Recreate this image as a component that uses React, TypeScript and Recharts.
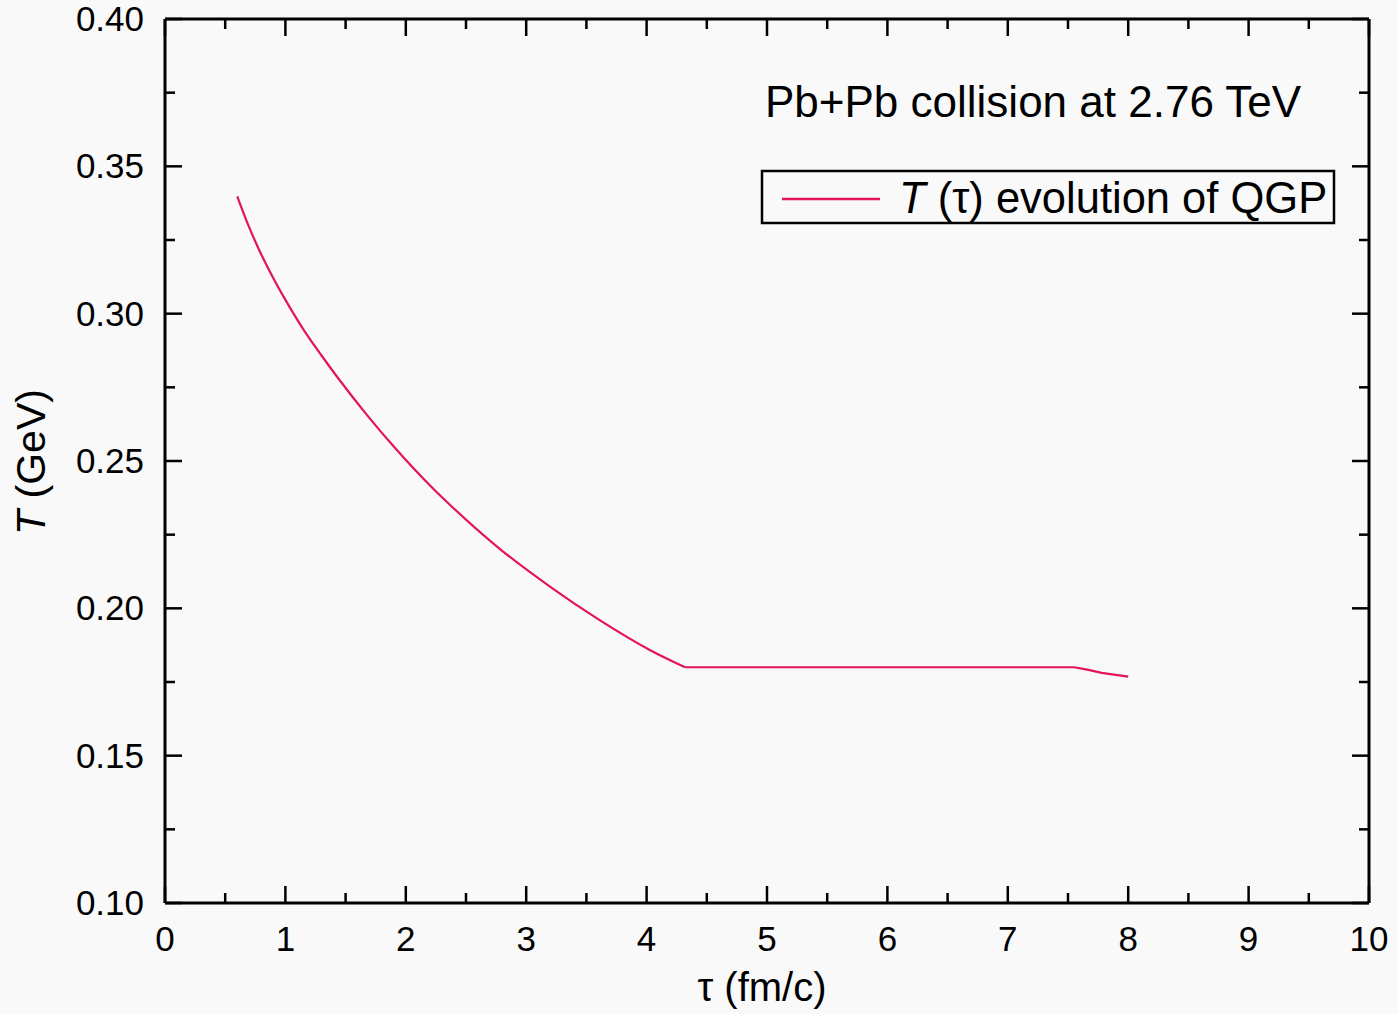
import { LineChart, Line, XAxis, YAxis, Legend, Label } from "recharts";

// temperature evolution: cooling part, then the mixed-phase plateau and tail
const COOL_TAU = [0.6, 0.69, 0.78, 0.89, 1.01, 1.16, 1.3, 1.44, 1.68, 1.9, 2.23, 2.37, 2.78, 3.2, 3.61, 4.03, 4.32];
const COOL_T = [0.3398, 0.3302, 0.3218, 0.3128, 0.304, 0.294, 0.2858, 0.278, 0.2655, 0.2549, 0.2405, 0.235, 0.2202, 0.2073, 0.196, 0.1858, 0.18];
const FLAT_TAU = [4.32, 7.55, 7.66, 7.78, 8.0];
const FLAT_T = [0.18, 0.18, 0.1792, 0.1781, 0.1768];

const X_MAJOR = [0, 1, 2, 3, 4, 5, 6, 7, 8, 9, 10];
const Y_MAJOR = [0.1, 0.15, 0.2, 0.25, 0.3, 0.35, 0.4];
const X_TICKS = X_MAJOR.flatMap(v => (v < 10 ? [v, v + 0.5] : [v]));
const Y_TICKS = Y_MAJOR.flatMap(v => (v < 0.4 ? [v, +(v + 0.025).toFixed(3)] : [v]));

const TITLE = "Pb+Pb collision at 2.76 TeV";
const SERIES_NAME = " (τ) evolution of QGP";

const data = [
  ...COOL_TAU.map((t, i) => ({ tau: t, cool: COOL_T[i], flat: i === COOL_TAU.length - 1 ? COOL_T[i] : null })),
  ...FLAT_TAU.slice(1).map((t, i) => ({ tau: t, cool: null, flat: FLAT_T[i + 1] })),
];

const W = 1398;
const H = 1014;
const FONT = '"Liberation Sans", Arial, sans-serif';
const RED = "#e3145a";
const MAJOR = 17;
const MINOR = 10;

const isMajorX = (v: number) => X_MAJOR.includes(v);
const isMajorY = (v: number) => Y_MAJOR.includes(v);

function BottomTick({ x, y, payload }: any) {
  const major = isMajorX(payload.value);
  return (
    <g>
      <line x1={x} x2={x} y1={y} y2={y - (major ? MAJOR : MINOR)} stroke="#000" strokeWidth={2.5} />
      {major && (
        <text x={x} y={y + 48} textAnchor="middle" fontSize={35} fontFamily={FONT} fill="#000">
          {payload.value}
        </text>
      )}
    </g>
  );
}

function TopTick({ x, y, payload }: any) {
  const major = isMajorX(payload.value);
  return <line x1={x} x2={x} y1={y} y2={y + (major ? MAJOR : MINOR)} stroke="#000" strokeWidth={2.5} />;
}

function LeftTick({ x, y, payload }: any) {
  const major = isMajorY(payload.value);
  return (
    <g>
      <line x1={x} x2={x + (major ? MAJOR : MINOR)} y1={y} y2={y} stroke="#000" strokeWidth={2.5} />
      {major && (
        <text x={x - 21} y={y + 12} textAnchor="end" fontSize={35} fontFamily={FONT} fill="#000">
          {payload.value.toFixed(2)}
        </text>
      )}
    </g>
  );
}

function RightTick({ x, y, payload }: any) {
  const major = isMajorY(payload.value);
  return <line x1={x} x2={x - (major ? MAJOR : MINOR)} y1={y} y2={y} stroke="#000" strokeWidth={2.5} />;
}

const XTitle = () => (
  <text x={762} y={1001} textAnchor="middle" fontSize={40} fontFamily={FONT} fill="#000">
    τ (fm/c)
  </text>
);

const YTitle = () => (
  <text x={45} y={462} transform="rotate(-90, 45, 462)" textAnchor="middle" fontSize={41} fontFamily={FONT} fill="#000">
    <tspan fontStyle="italic">T</tspan> (GeV)
  </text>
);

const renderLegend = () => (
  <svg width={W} height={H} style={{ position: "absolute", left: 0, top: 0 }}>
    <text x={765} y={117} fontSize={44} fontFamily={FONT} fill="#000">
      {TITLE}
    </text>
    <rect x={762} y={171} width={572} height={52} fill="none" stroke="#000" strokeWidth={2.5} />
    <line x1={782} x2={880} y1={199} y2={199} stroke={RED} strokeWidth={2.5} />
    <text x={899} y={213} fontSize={43.5} fontFamily={FONT} fill="#000">
      <tspan fontStyle="italic">T</tspan>
      {SERIES_NAME}
    </text>
  </svg>
);

export default function App() {
  return (
    <div style={{ position: "fixed", left: 0, top: 0, width: W, height: H, background: "#f9f9f9" }}>
      <LineChart width={W} height={H} data={data} margin={{ top: 18, right: 28, bottom: 0, left: 0 }}>
        <XAxis
          xAxisId="bottom"
          dataKey="tau"
          type="number"
          domain={[0, 10]}
          allowDataOverflow
          ticks={X_TICKS}
          interval={0}
          height={111}
          tickSize={0}
          tickMargin={0}
          tickLine={false}
          axisLine={{ stroke: "#000", strokeWidth: 3 }}
          tick={<BottomTick />}
        >
          <Label content={XTitle} />
        </XAxis>
        <XAxis
          xAxisId="top"
          orientation="top"
          dataKey="tau"
          type="number"
          domain={[0, 10]}
          allowDataOverflow
          ticks={X_TICKS}
          interval={0}
          height={1}
          tickSize={0}
          tickMargin={0}
          tickLine={false}
          axisLine={{ stroke: "#000", strokeWidth: 3 }}
          tick={<TopTick />}
        />
        <YAxis
          yAxisId="left"
          type="number"
          domain={[0.1, 0.4]}
          allowDataOverflow
          ticks={Y_TICKS}
          interval={0}
          width={165}
          tickSize={0}
          tickMargin={0}
          tickLine={false}
          axisLine={{ stroke: "#000", strokeWidth: 3 }}
          tick={<LeftTick />}
        >
          <Label content={YTitle} />
        </YAxis>
        <YAxis
          yAxisId="right"
          orientation="right"
          type="number"
          domain={[0.1, 0.4]}
          allowDataOverflow
          ticks={Y_TICKS}
          interval={0}
          width={1}
          tickSize={0}
          tickMargin={0}
          tickLine={false}
          axisLine={{ stroke: "#000", strokeWidth: 3 }}
          tick={<RightTick />}
        />
        <Legend
          layout="vertical"
          align="center"
          verticalAlign="middle"
          wrapperStyle={{ left: 0, top: 0, width: W, height: H, pointerEvents: "none" }}
          content={renderLegend}
        />
        <Line
          xAxisId="bottom"
          yAxisId="left"
          dataKey="cool"
          type="monotone"
          stroke={RED}
          strokeWidth={2.2}
          dot={false}
          isAnimationActive={false}
        />
        <Line
          xAxisId="bottom"
          yAxisId="left"
          dataKey="flat"
          type="linear"
          stroke={RED}
          strokeWidth={2.2}
          dot={false}
          isAnimationActive={false}
        />
        <Line
          xAxisId="top"
          yAxisId="right"
          dataKey="flat"
          stroke="none"
          dot={false}
          legendType="none"
          isAnimationActive={false}
        />
      </LineChart>
    </div>
  );
}
